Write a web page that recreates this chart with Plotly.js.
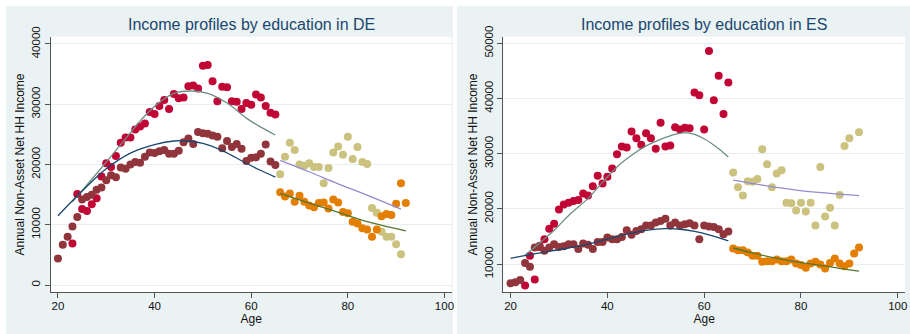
<!DOCTYPE html>
<html>
<head>
<meta charset="utf-8">
<script src="https://cdn.plot.ly/plotly-3.0.1.min.js"></script>
<style>html,body{margin:0;padding:0;background:#fff}#chart{width:910px;height:334px}</style>
</head>
<body>
<div id="chart"></div>
<script>
// ---------- DE (Germany) ----------
const deHiAge = [23,24,25,26,27,28,29,30,31,32,33,34,35,36,37,38,39,40,41,42,43,44,45,46,47,48,49,50,51,52,53,54,55,56,57,58,59,60,61,62,63,64,65];
const deHi = [6900,15100,12600,12300,13400,14400,18000,20200,19600,21400,23600,24500,24500,25800,26300,26800,28700,28400,29700,30700,29200,31700,31000,31100,33000,33100,32600,36400,36500,33800,30500,32900,32800,30500,30400,29200,30200,29900,31600,31100,29700,28600,28300];
const deLoAge = [20,21,22,23,24,25,26,27,28,29,30,31,32,33,34,35,36,37,38,39,40,41,42,43,44,45,46,47,48,49,50,51,52,53,54,55,56,57,58,59,60,61,62,63,64,65];
const deLo = [4400,6700,8000,9700,11300,14200,14600,15000,15800,16200,17400,18200,17900,19500,19300,20000,20400,20300,21300,22000,21900,22200,22400,21800,21800,22300,23700,24300,23400,25400,25200,25100,24800,24600,22700,23900,22900,23400,22600,20600,21100,21200,21800,23300,20500,19900];
const deOldHiAge = [66,67,68,69,70,71,72,73,74,75,76,77,78,79,80,81,82,83,84,85,86,87,88,89,90,91];
const deOldHi = [18400,21300,23600,22400,20000,19800,20200,19600,19600,16900,19400,22000,23000,21600,24600,20900,22900,20400,20100,12800,12000,8850,8000,8000,6750,5100];
const deOldLoAge = [66,67,68,69,70,71,72,73,74,75,76,77,78,79,80,81,82,83,84,85,86,87,88,89,90,91,92];
const deOldLo = [15400,14700,15200,13800,14800,13800,13200,12900,13600,13700,12700,14200,13700,12100,11900,10500,10200,9400,9200,8000,9200,11400,11800,11600,13500,16900,13600];
// fitted profiles
const deHiFitAge = [23,26,30,34,38,41,44,47.5,51,55,59,62,65];
const deHiFit = [13800,16600,20400,24300,28100,30300,31800,32200,31800,30200,27700,26200,24900];
const deLoFitAge = [20,25,30,35,40,44,47,50,54,59,62,65];
const deLoFit = [11500,15600,19300,21900,23300,23900,23900,23500,22300,20200,19000,17900];
const deOldHiFitAge = [66,72,78,85,91];
const deOldHiFit = [20700,18800,16800,14600,12600];
const deOldLoFitAge = [66,72,79,85,92];
const deOldLoFit = [15200,13600,11800,10300,9000];

// ---------- ES (Spain) ----------
const esHiAge = [23,24,25,26,27,28,29,30,31,32,33,34,35,36,37,38,39,40,41,42,43,44,45,46,47,48,49,50,51,52,53,54,55,56,57,58,59,60,61,62,63,64,65];
const esHi = [6100,11500,7200,13100,14500,16400,17300,19900,20800,21100,21400,21600,22800,22400,24100,26000,24600,25800,27300,29900,31300,31100,34000,32800,31600,33700,32800,30900,35600,31300,31500,34800,34400,34700,34600,41100,40600,34400,48600,39700,44100,37200,42900];
const esLoAge = [20,21,22,23,24,25,26,27,28,29,30,31,32,33,34,35,36,37,38,39,40,41,42,43,44,45,46,47,48,49,50,51,52,53,54,55,56,57,58,59,60,61,62,63,64,65];
const esLo = [6500,6700,7100,10200,9500,13000,13300,12400,13000,13600,13100,13200,13600,13600,12700,13700,13500,12700,14000,14000,14800,14500,14500,14900,16100,15300,16000,16300,17000,17000,17500,17800,18200,17000,17500,17000,17200,17400,17000,14500,17000,16800,16700,16300,15400,15900];
const esOldHiAge = [66,67,68,69,70,71,72,73,74,75,76,77,78,79,80,81,82,83,84,85,86,87,88,89,90,92];
const esOldHi = [26600,23900,22400,25000,24900,25400,30800,28100,23900,26400,27000,21100,21000,19700,21100,19500,21100,17000,27600,18600,20200,17000,22500,31400,32800,33900];
const esOldLoAge = [66,67,68,69,70,71,72,73,74,75,76,77,78,79,80,81,82,83,84,85,86,87,88,89,90,91,92];
const esOldLo = [12800,12500,12500,12100,11500,11500,10400,10500,10500,10800,10500,10500,10800,10100,9800,9300,10100,10400,9900,9200,10200,11000,10100,9600,10100,11900,13000];
const esHiFitAge = [23,26,29,32,36,39,42,45,48,51,54,56,58,60,63,65];
const esHiFit = [11600,13800,16100,18800,21900,24800,27600,29700,31400,32600,33500,33800,33500,32700,30900,29400];
const esLoFitAge = [20,24,28,32,36,40,44,48,52,55,58,61,65];
const esLoFit = [11000,11700,12300,12900,13600,14500,15400,16100,16400,16300,15900,15300,14200];
const esOldHiFitAge = [66,72,79,86,92];
const esOldHiFit = [25200,24300,23400,22800,22400];
const esOldLoFitAge = [66,70,74,79,83,88,92];
const esOldLoFit = [12900,12000,11200,10400,9900,9200,8700];

const xTicks = [20,40,60,80,100];
const deYTicks = [0,10000,20000,30000,40000];
const esYTicks = [10000,20000,30000,40000,50000];
const titles = ['Income profiles by education in DE','Income profiles by education in ES'];

// ---------- styling ----------
const C = {hi:'#c10534', lo:'#90353b', oldHi:'#cac27e', oldLo:'#e37e00',
           hiFit:'#6e8e84', loFit:'#1a476f', oldHiFit:'#938dd2', oldLoFit:'#55752f'};
const FONT = '"Liberation Sans", Arial, Helvetica, sans-serif';

function pts(x, y, color, xa, ya){
  return {type:'scatter', mode:'markers', x:x, y:y, xaxis:xa, yaxis:ya,
          marker:{color:color, size:8, line:{width:0}}, hoverinfo:'x+y'};
}
function fit(x, y, color, xa, ya){
  return {type:'scatter', mode:'lines', x:x, y:y, xaxis:xa, yaxis:ya,
          line:{color:color, width:1.3, shape:'spline', smoothing:1}, hoverinfo:'skip'};
}

const traces = [
  pts(deHiAge, deHi, C.hi, 'x', 'y'),
  pts(deLoAge, deLo, C.lo, 'x', 'y'),
  pts(deOldHiAge, deOldHi, C.oldHi, 'x', 'y'),
  pts(deOldLoAge, deOldLo, C.oldLo, 'x', 'y'),
  fit(deHiFitAge, deHiFit, C.hiFit, 'x', 'y'),
  fit(deLoFitAge, deLoFit, C.loFit, 'x', 'y'),
  fit(deOldHiFitAge, deOldHiFit, C.oldHiFit, 'x', 'y'),
  fit(deOldLoFitAge, deOldLoFit, C.oldLoFit, 'x', 'y'),
  pts(esHiAge, esHi, C.hi, 'x2', 'y2'),
  pts(esLoAge, esLo, C.lo, 'x2', 'y2'),
  pts(esOldHiAge, esOldHi, C.oldHi, 'x2', 'y2'),
  pts(esOldLoAge, esOldLo, C.oldLo, 'x2', 'y2'),
  fit(esHiFitAge, esHiFit, C.hiFit, 'x2', 'y2'),
  fit(esLoFitAge, esLoFit, C.loFit, 'x2', 'y2'),
  fit(esOldHiFitAge, esOldHiFit, C.oldHiFit, 'x2', 'y2'),
  fit(esOldLoFitAge, esOldLoFit, C.oldLoFit, 'x2', 'y2')
];

const W = 910, H = 334;
const AX = '#555';
function xAxis(domain, anchor){
  return {domain:domain, anchor:anchor, range:[18.5,101.5], tickvals:xTicks,
    ticks:'outside', ticklen:5, tickcolor:AX, tickwidth:1, ticklabelstandoff:-2,
    showline:true, linecolor:AX, linewidth:1, showgrid:false, zeroline:false,
    tickfont:{family:FONT, size:11.5, color:'#111'},
    title:{text:'Age', font:{family:FONT, size:12, color:'#111'}, standoff:0}};
}
function yAxis(range, ticks, anchor){
  return {domain:[1-292.3/H, 1-36.7/H], anchor:anchor, range:range, tickvals:ticks,
    tickformat:'d', tickangle:-90,
    ticks:'outside', ticklen:5, tickcolor:AX, tickwidth:1,
    showline:true, linecolor:AX, linewidth:1,
    showgrid:true, gridcolor:'#e6eef0', gridwidth:1, zeroline:false,
    tickfont:{family:FONT, size:11.5, color:'#111'},
    title:{text:'Annual Non-Asset Net HH Income', font:{family:FONT, size:12, color:'#111'}, standoff:2}};
}

const BG = '#eaf2f3';
const layout = {
  width:W, height:H, margin:{l:0,r:0,t:0,b:0},
  paper_bgcolor:BG, plot_bgcolor:'#ffffff', showlegend:false,
  font:{family:FONT},
  xaxis: xAxis([50.7/W, 451.7/W], 'y'),
  yaxis: yAxis([-1210, 41210], deYTicks, 'x'),
  xaxis2: xAxis([503.3/W, 905/W], 'y2'),
  yaxis2: yAxis([4870, 51200], esYTicks, 'x2'),
  annotations: [
    {text:titles[0], xref:'paper', yref:'paper', x:251/W, y:1-25/H, xanchor:'center', yanchor:'middle',
     showarrow:false, font:{family:FONT, size:16, color:'#1a476f'}},
    {text:titles[1], xref:'paper', yref:'paper', x:704/W, y:1-25/H, xanchor:'center', yanchor:'middle',
     showarrow:false, font:{family:FONT, size:16, color:'#1a476f'}}
  ],
  shapes: [
    {type:'rect', xref:'paper', yref:'paper', x0:0, x1:1, y0:1-6/H, y1:1, fillcolor:'#fff', line:{width:0}, layer:'below'},
    {type:'rect', xref:'paper', yref:'paper', x0:0, x1:6/W, y0:0, y1:1, fillcolor:'#fff', line:{width:0}, layer:'below'},
    {type:'rect', xref:'paper', yref:'paper', x0:453/W, x1:457/W, y0:0, y1:1, fillcolor:'#fff', line:{width:0}, layer:'below'}
  ]
};

Plotly.newPlot('chart', traces, layout, {staticPlot:true, displayModeBar:false});
</script>
</body>
</html>
